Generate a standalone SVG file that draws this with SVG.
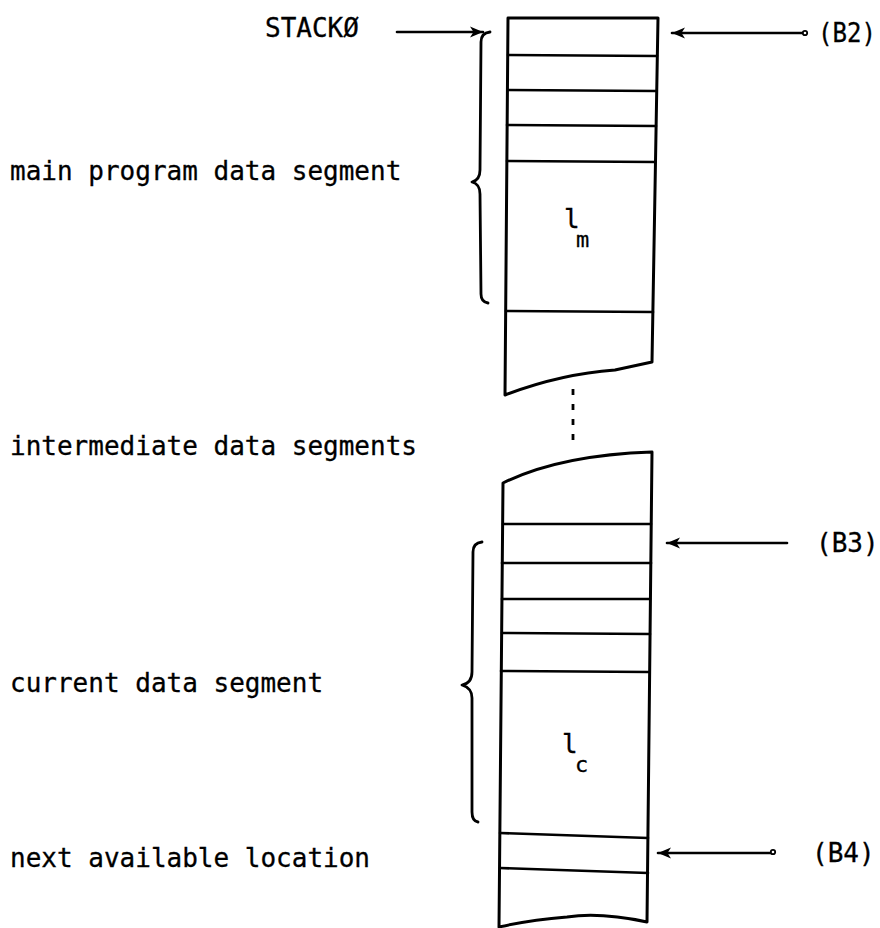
<svg xmlns="http://www.w3.org/2000/svg" width="880" height="928" viewBox="0 0 880 928">
  <style>
    .lbl { font-family: "DejaVu Sans Mono", "Liberation Mono", monospace; font-size: 26px; fill: #000; stroke: #000; stroke-width: 0.3; }
    .sub { font-family: "DejaVu Sans Mono", "Liberation Mono", monospace; font-size: 22px; fill: #000; stroke: #000; stroke-width: 0.3; }
    .box { fill: none; stroke: #000; stroke-width: 3; stroke-linejoin: round; stroke-linecap: round; }
    .row { fill: none; stroke: #000; stroke-width: 2.6; stroke-linecap: round; }
    .brace { fill: none; stroke: #000; stroke-width: 2.8; stroke-linecap: round; stroke-linejoin: round; }
    .arrow { fill: none; stroke: #000; stroke-width: 2.6; stroke-linecap: round; }
    .tail { fill: #fff; stroke: #000; stroke-width: 1.8; }
    .dots { fill: none; stroke: #000; stroke-width: 2.8; stroke-dasharray: 6 9; }
  </style>
  <defs>
    <marker id="head" markerWidth="16" markerHeight="14" refX="13" refY="7" orient="auto" markerUnits="userSpaceOnUse">
      <path d="M0,1.5 L13,7 L0,12.5 L3.5,7 Z" fill="#000"/>
    </marker>
  </defs>
  <rect width="880" height="928" fill="#fff"/>

  <!-- upper stack: main program data segment -->
  <g id="main-segment">
    <path class="box" d="M505,395 L508,18 L658,18 L652,362 L615,370 Q560,374 505,395"/>
    <line class="row" x1="508" y1="55" x2="657" y2="56"/>
    <line class="row" x1="508" y1="90" x2="656" y2="91"/>
    <line class="row" x1="507" y1="125" x2="656" y2="126"/>
    <line class="row" x1="507" y1="161" x2="655" y2="162"/>
    <line class="row" x1="506" y1="311" x2="653" y2="312"/>
    <text class="lbl" x="564" y="228">l</text>
    <text class="sub" x="576" y="247">m</text>
  </g>

  <!-- lower stack: current data segment -->
  <g id="current-segment">
    <path class="box" d="M499,927 L503,483 Q560,455 652,452 L647,922 Q600,912 567,917 Q530,920 499,927"/>
    <line class="row" x1="503" y1="524" x2="651" y2="524"/>
    <line class="row" x1="502" y1="563" x2="651" y2="563"/>
    <line class="row" x1="502" y1="599" x2="650" y2="599"/>
    <line class="row" x1="502" y1="633" x2="650" y2="634"/>
    <line class="row" x1="501" y1="671" x2="649" y2="672"/>
    <line class="row" x1="500" y1="833" x2="648" y2="838"/>
    <line class="row" x1="500" y1="868" x2="648" y2="873"/>
    <text class="lbl" x="562" y="753">l</text>
    <text class="sub" x="575" y="772">c</text>
  </g>

  <!-- braces -->
  <g id="braces">
    <path class="brace" d="M490,32 Q481,33 481,42 L480,170 Q480,180 472,182 Q480,184 480,194 L481,294 Q481,302 488,303"/>
    <path class="brace" d="M482,542 Q473,543 473,552 L472,672 Q472,683 462,685 Q472,688 472,698 L472,812 Q472,821 478,822"/>
  </g>

  <!-- connectors -->
  <g id="connectors">
    <line class="arrow" x1="397" y1="32" x2="483" y2="32" marker-end="url(#head)"/>
    <line class="arrow" x1="804" y1="33" x2="672" y2="33" marker-end="url(#head)"/>
    <circle class="tail" cx="805" cy="33" r="2.2"/>
    <line class="arrow" x1="787" y1="543" x2="667" y2="543" marker-end="url(#head)"/>
    <line class="arrow" x1="772" y1="853" x2="658" y2="853" marker-end="url(#head)"/>
    <circle class="tail" cx="773" cy="852" r="2.2"/>
    <line class="dots" x1="573" y1="389" x2="573" y2="446"/>
  </g>

  <!-- labels -->
  <g id="labels">
    <text class="lbl" x="265" y="37">STACKØ</text>
    <text class="lbl" x="818" y="42" textLength="58" lengthAdjust="spacingAndGlyphs">(B2)</text>
    <text class="lbl" x="816" y="552">(B3)</text>
    <text class="lbl" x="812" y="862">(B4)</text>
    <text class="lbl" x="10" y="180">main program data segment</text>
    <text class="lbl" x="10" y="455">intermediate data segments</text>
    <text class="lbl" x="10" y="692">current data segment</text>
    <text class="lbl" x="10" y="867">next available location</text>
  </g>
</svg>
